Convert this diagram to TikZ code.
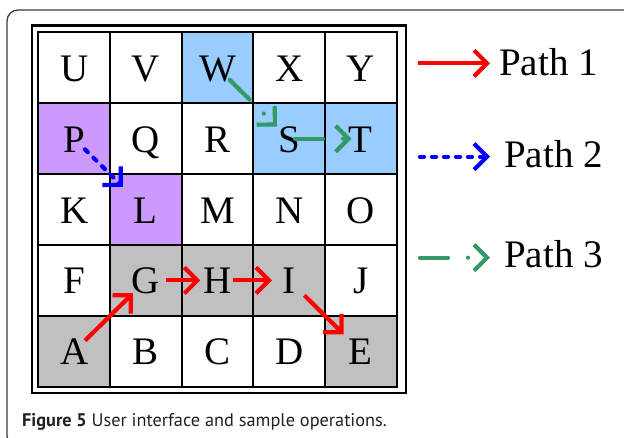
\documentclass[tikz,border=0pt]{standalone}
\usepackage{fontspec}
\setmainfont{Liberation Serif}
\newfontfamily\capfont{PT Sans}
\usetikzlibrary{arrows.meta,calc}
\definecolor{cellblue}{RGB}{153,204,255}
\definecolor{cellpurple}{RGB}{204,153,255}
\definecolor{cellgray}{RGB}{192,192,192}
\definecolor{pathgreen}{RGB}{51,153,102}
\definecolor{framegray}{RGB}{60,60,60}
\definecolor{captext}{RGB}{35,31,32}

\begin{document}
\begin{tikzpicture}[x=1pt,y=-1pt]
\tikzstyle{every node}+=[inner sep=0pt]
\tikzstyle{cell}=[draw=black,line width=2.2pt,fill=white,minimum width=71.7pt,minimum height=70.9pt,font=\fontsize{39}{40}\selectfont,text height=27pt,text depth=0pt]
\tikzstyle{legend}=[anchor=base west,font=\fontsize{39}{40}\selectfont]
\tikzstyle{path1}=[red,line width=4.2pt,-{Straight Barb[length=13pt,width=26pt]}]
\tikzstyle{path2}=[blue,line width=4.2pt,line cap=round,dash pattern=on 4pt off 8pt,-{Straight Barb[length=13pt,width=26pt]}]
\tikzstyle{path3}=[pathgreen,line width=4.2pt,line cap=round,dash pattern=on 28pt off 20pt on 0pt off 20pt,-{Straight Barb[length=13pt,width=26pt]}]
\useasboundingbox (0,0) rectangle (624,438);
\clip (0,0) rectangle (624,438);
\draw [framegray,line width=1.3pt,rounded corners=11pt] (7,10) rectangle (700,447);
\draw [black,line width=2.3pt] (32,25.5) rectangle (406,393);
\node [cell] (U) at (74.2,67.8) {U};
\node [cell] (V) at (145.9,67.8) {V};
\node [cell,fill=cellblue] (W) at (217.5,67.8) {W};
\node [cell] (X) at (289.2,67.8) {X};
\node [cell] (Y) at (360.9,67.8) {Y};
\node [cell,fill=cellpurple] (P) at (74.2,138.7) {P};
\node [cell] (Q) at (145.9,138.7) {Q};
\node [cell] (R) at (217.5,138.7) {R};
\node [cell,fill=cellblue] (S) at (289.2,138.7) {S};
\node [cell,fill=cellblue] (T) at (360.9,138.7) {T};
\node [cell] (K) at (74.2,209.6) {K};
\node [cell,fill=cellpurple] (L) at (145.9,209.6) {L};
\node [cell] (M) at (217.5,209.6) {M};
\node [cell] (N) at (289.2,209.6) {N};
\node [cell] (O) at (360.9,209.6) {O};
\node [cell] (F) at (74.2,280.4) {F};
\node [cell,fill=cellgray] (G) at (145.9,280.4) {G};
\node [cell,fill=cellgray] (H) at (217.5,280.4) {H};
\node [cell,fill=cellgray] (I) at (289.2,280.4) {I};
\node [cell] (J) at (360.9,280.4) {J};
\node [cell,fill=cellgray] (A) at (74.2,351.3) {A};
\node [cell] (B) at (145.9,351.3) {B};
\node [cell] (C) at (217.5,351.3) {C};
\node [cell] (D) at (289.2,351.3) {D};
\node [cell,fill=cellgray] (E) at (360.9,351.3) {E};
\draw [path1] ($(A)!0.15!(G)$) -- ($(A)!0.82!(G)$);
\draw [path1] ($(G)!0.28!(H)$) -- ($(G)!0.76!(H)$);
\draw [path1] ($(H)!0.22!(I)$) -- ($(H)!0.76!(I)$);
\draw [path1] ($(I)!0.21!(E)$) -- ($(I)!0.76!(E)$);
\draw [path2] ($(P)!0.15!(L)$) -- ($(P)!0.68!(L)$);
\draw [path3] ($(W)!0.17!(S)$) -- ($(W)!0.83!(S)$);
\draw [path3] ($(S)!0.08!(T)$) -- ($(S)!0.87!(T)$);
\node [legend] (path1label) at (499,76) {Path 1};
\node [legend] (path2label) at (504,168) {Path 2};
\node [legend] (path3label) at (504,268) {Path 3};
\coordinate (p1s) at (418,63.3);
\coordinate (p1e) at (490,63.3);
\coordinate (p2s) at (420,156.7);
\coordinate (p2e) at (490,156.7);
\coordinate (p3s) at (420,257.7);
\coordinate (p3e) at (490,257.7);
\draw [path1] (p1s) -- (p1e);
\draw [path2] (p2s) -- (p2e);
\draw [path3] (p3s) -- (p3e);
\node [anchor=base west,text=captext,font=\capfont\fontsize{18.3}{20}\selectfont] (caption) at (22,426) {\textbf{Figure 5} User interface and sample operations.};
\end{tikzpicture}
\end{document}
